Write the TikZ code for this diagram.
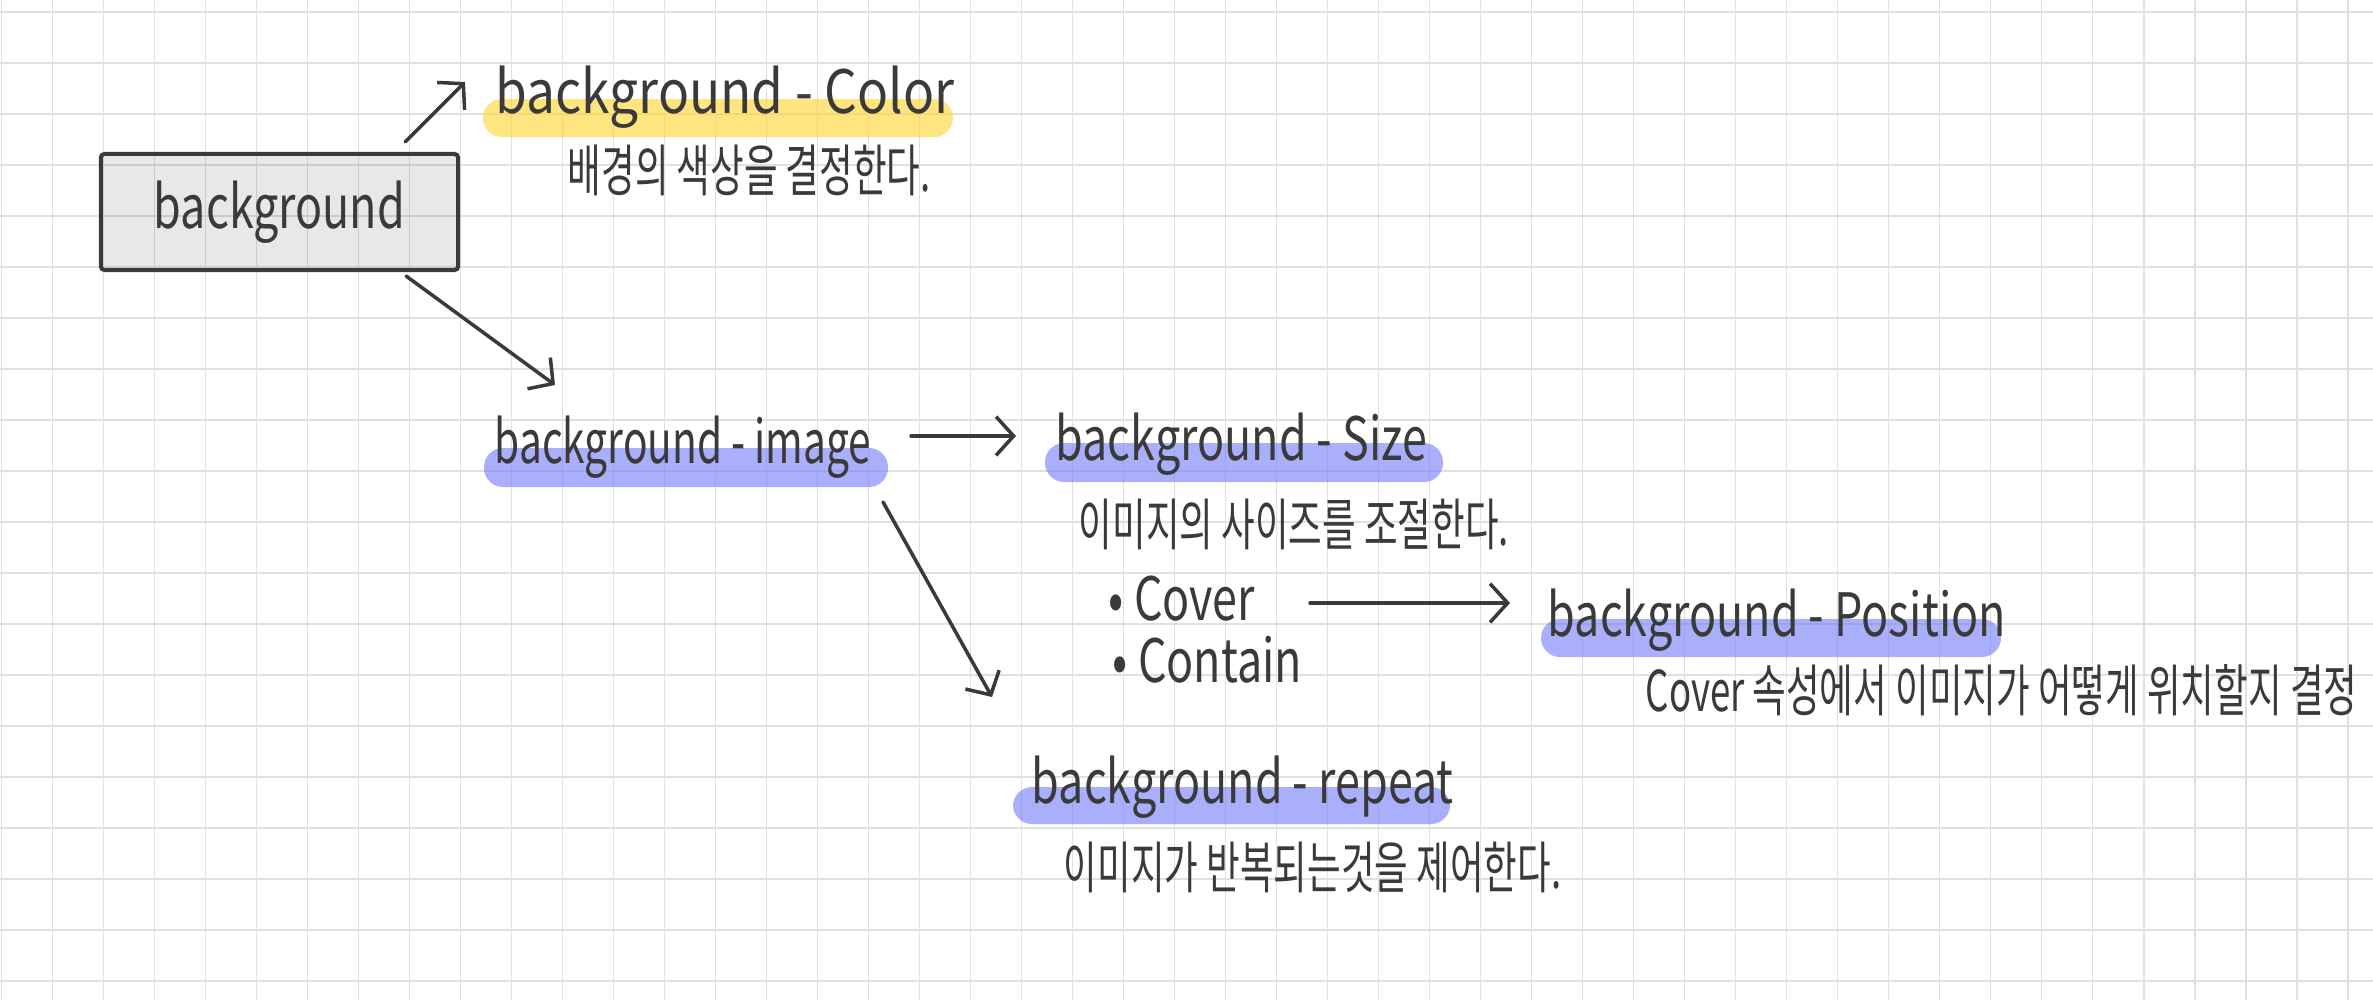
\documentclass[tikz,border=0pt]{standalone}
\usepackage{fontspec}
\usetikzlibrary{calc,arrows.meta}
\newfontfamily\handfont[FakeStretch=0.75]{Noto Sans CJK KR}
\newfontfamily\handwide[FakeStretch=0.86]{Noto Sans CJK KR}
\newfontfamily\handnarrow[FakeStretch=0.68]{Noto Sans CJK KR}
\newfontfamily\hangulfont[FakeStretch=0.65]{Noto Sans CJK KR}
\definecolor{penInk}{HTML}{3A3A3A}
\definecolor{gridLine}{HTML}{E0E0E0}
\definecolor{markBlue}{RGB}{113,123,247}
\definecolor{markYellow}{RGB}{255,213,43}

\begin{document}
\begin{tikzpicture}[x=0.01cm, y=-0.01cm,
      prop/.style={anchor=base west, inner sep=0pt, text=penInk,
                   font=\handfont\fontsize{17}{20}\selectfont},
      note/.style={anchor=west, inner sep=0pt, text=penInk,
                   font=\hangulfont\fontsize{16}{19}\selectfont},
      marker/.style={fill=#1, fill opacity=0.6, rounded corners=0.19cm},
      arr/.style={-{Straight Barb[length=5pt,width=11pt]}, draw=penInk,
                  line width=1pt, line cap=round, line join=round},
      paper/.style={draw=gridLine, line width=0.55pt}]
    \useasboundingbox (0,0) rectangle (2373,1000);
    \fill[white] (0,0) rectangle (2373,1000);
    % grid paper
    \foreach \i in {0,...,46}
      \draw[paper] ({1.5+51*\i},0) -- ++(0,1000);
    \foreach \j in {0,...,19}
      \draw[paper] (0,{11.7+51*\j}) -- ++(2373,0);
    % highlights
    \fill[marker=markYellow] (483,99) rectangle (953,137);
    \fill[marker=markBlue] (484,448) rectangle (888,487);
    \fill[marker=markBlue] (1045,443) rectangle (1443,482);
    \fill[marker=markBlue] (1541,619) rectangle (2001,657);
    \fill[marker=markBlue] (1013,787) rectangle (1450,824);
    % root box
    \node[draw=penInk, line width=1.15pt, fill=black, fill opacity=0.09,
          text opacity=1, text=penInk, rounded corners=1pt,
          minimum width=3.57cm, minimum height=1.16cm, inner sep=0pt,
          font=\handfont\fontsize{17}{20}\selectfont] (bg) at (279.5,212) {background};
    % properties
    \node[prop, font=\handwide\fontsize{17}{20}\selectfont] (col) at (495,113) {background - Color};
    \node[note] (colD) at (567,170) {배경의 색상을 결정한다.};
    \node[prop, font=\handnarrow\fontsize{17}{20}\selectfont] (img) at (494,463) {background - image};
    \node[prop] (size) at (1055,460) {background - Size};
    \node[note] (sizeD) at (1078,524) {이미지의 사이즈를 조절한다.};
    \node[prop] (cover) at (1108,620) {• Cover};
    \node[prop] (contain) at (1112,682) {• Contain};
    \node[prop] (pos) at (1547,636) {background - Position};
    \node[note] (posD) at (1645,690) {Cover 속성에서 이미지가 어떻게 위치할지 결정};
    \node[prop] (rep) at (1031,803) {background - repeat};
    \node[note] (repD) at (1063,867) {이미지가 반복되는것을 제어한다.};
    % arrows
    \draw[arr] ($(bg.north east)+(-55,-10)$) -- ($(col.base west)+(-30,-31)$);
    \draw[arr] ($(bg.south east)+(-54,4)$) -- ($(img.base west)+(61,-78)$);
    \draw[arr] ($(img.base west)+(417,-27)$) -- ($(size.base west)+(-39,-24)$);
    \draw[arr] ($(img.base west)+(389,39)$) -- ($(rep.base west)+(-39,-106)$);
    \draw[arr] ($(cover.base west)+(202,-17)$) -- ($(pos.base west)+(-37,-33)$);
  \end{tikzpicture}
\end{document}
